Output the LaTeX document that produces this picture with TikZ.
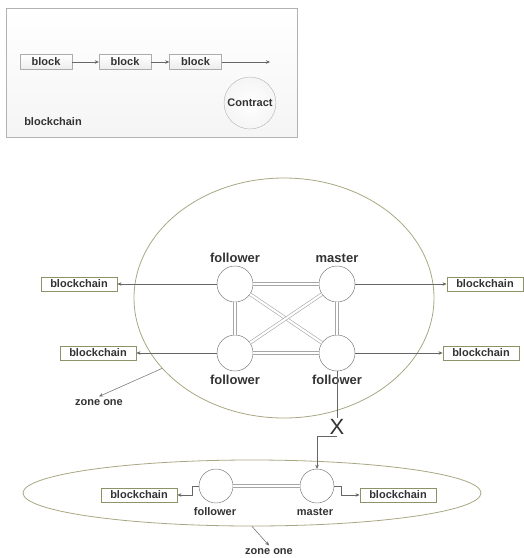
\documentclass[tikz,border=0pt]{standalone}
\usepackage{fontspec}
\setmainfont{Liberation Sans}
\usepackage{tikz}
\usetikzlibrary{positioning,arrows.meta,shapes.geometric}
\definecolor{zonaOliva}{HTML}{A9A783}
\definecolor{cajaOliva}{HTML}{8C9368}
\definecolor{lineaGris}{HTML}{666666}
\definecolor{textoGris}{HTML}{333333}
\colorlet{colZona}{zonaOliva}
\colorlet{colCaja}{cajaOliva}
\colorlet{colLinea}{lineaGris}

\begin{document}
\begin{tikzpicture}[
        x=1pt, y=-1pt,
        txt/.style={font=\bfseries\fontsize{11}{13}\selectfont, text=textoGris},
        tag/.style={font=\bfseries\fontsize{13}{15}\selectfont, text=textoGris},
        peer/.style={circle, draw=black!60, fill=white, minimum size=36pt, inner sep=0pt},
        chain/.style={txt, draw=colCaja, line width=0.9pt, fill=white, minimum width=76pt, minimum height=14pt, inner sep=1pt},
        blk/.style={txt, draw=gray!65, top color=white, bottom color=gray!15, minimum width=52pt, minimum height=15pt, inner sep=1pt},
        zone/.style={ellipse, draw=colZona, line width=0.8pt, inner sep=0pt},
        arr/.style={-{Stealth[length=4pt, width=3.5pt]}, draw=colLinea, line width=0.5pt},
        link/.style={draw=black!35, double=white, double distance=2.2pt, line width=0.6pt}
    ]
        \useasboundingbox (0,0) rectangle (524,558);

        % --- CADENA ---
        \draw[draw=gray!60, top color=white, bottom color=gray!8] (6,8) rectangle (297,137);
        \node[blk] (b1) at (46,62) {block};
        \node[blk] (b2) at (125,62) {block};
        \node[blk] (b3) at (195.5,62) {block};
        \coordinate (chainEnd) at (270,62);
        \node[txt, circle, draw=gray!60, inner color=white, outer color=gray!8, minimum size=52pt, inner sep=0pt] (contrato) at (250,103) {Contract};
        \node[txt] (cadenaLbl) at (53,122) {blockchain};

        \draw[arr] (b1) -- (b2);
        \draw[arr] (b2) -- (b3);
        \draw[arr] (b3) -- (chainEnd);

        % --- ZONA SUPERIOR ---
        \node[zone, minimum width=300pt, minimum height=240pt] (zona1) at (284,298) {};

        \node[peer] (f1) at (235,284) {};
        \node[peer] (m1) at (337,284) {};
        \node[peer] (f2) at (235,353) {};
        \node[peer] (f3) at (337,353) {};

        \draw[link] (f1) -- (m1);
        \draw[link] (f2) -- (f3);
        \draw[link] (f1) -- (f2);
        \draw[link] (m1) -- (f3);
        \draw[link] (f1) -- (f3);
        \draw[link] (m1) -- (f2);

        \node[tag] (f1Lbl) at (235,258) {follower};
        \node[tag] (m1Lbl) at (337,258) {master};
        \node[tag] (f2Lbl) at (235,380) {follower};
        \node[tag] (f3Lbl) at (337,380) {follower};

        \node[chain] (bcA) at (79,284) {blockchain};
        \node[chain] (bcB) at (98,353) {blockchain};
        \node[chain] (bcC) at (485,284) {blockchain};
        \node[chain] (bcD) at (481,353) {blockchain};

        \draw[arr] (f1) -- (bcA);
        \draw[arr] (f2) -- (bcB);
        \draw[arr] (m1) -- (bcC);
        \draw[arr] (f3) -- (bcD);

        \node[txt] (zonaLbl1) at (99,403) {zone one};
        \draw[arr] (zona1.210) -- (zonaLbl1.north);

        % --- CORTE ---
        \node[font=\fontsize{22}{24}\selectfont, text=textoGris, inner sep=1pt] (corte) at (337,427) {X};

        % --- ZONA INFERIOR ---
        \node[zone, minimum width=458pt, minimum height=66pt] (zona2) at (252,493) {};

        \node[peer, minimum size=34pt] (fb) at (216,486) {};
        \node[peer, minimum size=34pt] (mb) at (317,486) {};
        \draw[link] (fb) -- (mb);

        \node[txt] (fbLbl) at (215,512) {follower};
        \node[txt] (mbLbl) at (315,512) {master};

        \node[chain] (bcE) at (139,495) {blockchain};
        \node[chain] (bcF) at (398,495) {blockchain};

        \draw[arr] (fb.west) -- ++(-7,0) |- (bcE.east);
        \draw[arr] (mb.east) -- ++(7,0) |- (bcF.west);

        \draw[colLinea, line width=0.5pt] (f3.south) -- (corte.north);
        \draw[arr] (corte.south) -| (mb.north);

        \node[txt] (zonaLbl2) at (269,552) {zone one};
        \draw[arr] (zona2.south) -- (zonaLbl2.north);
    \end{tikzpicture}
\end{document}
